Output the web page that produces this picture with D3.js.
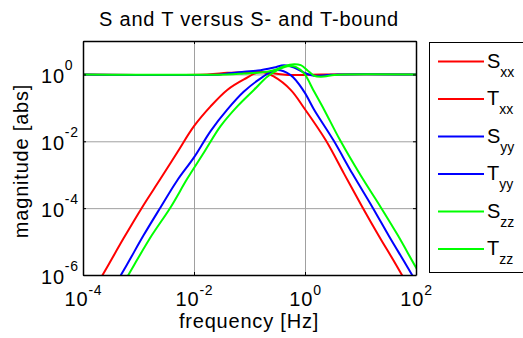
<!DOCTYPE html>
<html><head><meta charset="utf-8">
<script src="https://cdn.jsdelivr.net/npm/d3@7"></script>
<style>
body{margin:0;background:#fff;}
svg text{font-family:"Liberation Sans",Arial,Helvetica,sans-serif;fill:#000;}
</style></head><body>
<svg id="chart" width="523" height="338"></svg>
<script>
// ---- data ----
const titleText = "S and T versus S- and T-bound";
const xLabelText = "frequency [Hz]";
const yLabelText = "magnitude [abs]";
const xTicks = [1e-4, 1e-2, 1, 1e2];
const xTickExp = ["-4", "-2", "0", "2"];
const yTicks = [1e-6, 1e-4, 1e-2, 1];
const yTickExp = ["-6", "-4", "-2", "0"];
const legendMain = ["S", "T", "S", "T", "S", "T"];
const legendSub = ["xx", "xx", "yy", "yy", "zz", "zz"];

const freqSxx = [1e-4, 0.0173, 0.0397, 0.0912, 0.159, 0.240, 0.365, 0.635, 1.10, 1.92, 100];
const magSxx  = [1, 1, 1.12, 1.17, 1.17, 1.12, 1.02, 0.955, 0.977, 1, 1];
const freqTxx = [1.5e-4, 2.9e-4, 5.42e-4, 1.16e-3, 2.49e-3, 4.98e-3, 0.01, 0.0199, 0.0397, 0.0794, 0.159, 0.277, 0.552, 0.962, 2.37, 5.07, 10.9, 21.7, 43.4, 100];
const magTxx  = [3.1e-7, 2.07e-6, 1.27e-5, 1.05e-4, 7.53e-4, 4.62e-3, 0.0284, 0.111, 0.344, 0.711, 1.20, 0.853, 0.344, 0.0989, 0.0107, 1.06e-3, 1.05e-4, 1.42e-5, 2.07e-6, 1.8e-7];
const freqSyy = [1e-4, 0.0301, 0.0397, 0.0794, 0.159, 0.277, 0.419, 0.635, 0.962, 1.46, 2.54, 3.85, 100];
const magSyy  = [1, 1, 1.07, 1.20, 1.34, 1.61, 1.89, 1.61, 1.12, 0.913, 0.955, 1, 1];
const freqTyy = [3.2e-4, 6.22e-4, 1.25e-3, 2.49e-3, 4.98e-3, 0.01, 0.0199, 0.0397, 0.0794, 0.159, 0.297, 0.552, 0.962, 1.46, 3.26, 7.18, 16.5, 32.9, 65.8, 130];
const magTyy  = [3.1e-7, 2.07e-6, 1.59e-5, 1.05e-4, 6.73e-4, 3.29e-3, 0.0202, 0.0883, 0.307, 0.762, 1.34, 0.955, 0.307, 0.0883, 0.0107, 1.06e-3, 1.05e-4, 1.42e-5, 2.07e-6, 3.0e-7];
const freqSzz = [1e-4, 0.0397, 0.0794, 0.159, 0.277, 0.419, 0.635, 0.837, 1.10, 1.46, 1.92, 3.35, 5.07, 100];
const magSzz  = [1, 1, 1.07, 1.15, 1.34, 1.76, 2.02, 1.89, 1.34, 0.913, 0.853, 0.955, 1, 1];
const freqTzz = [4.4e-4, 8.45e-4, 1.76e-3, 3.77e-3, 7.54e-3, 0.0151, 0.0301, 0.0603, 0.120, 0.209, 0.318, 0.481, 0.681, 0.962, 1.46, 2.21, 4.30, 10.1, 23.3, 46.5, 93.0, 180];
const magTzz  = [3.1e-7, 2.07e-6, 1.59e-5, 1.05e-4, 7.53e-4, 4.62e-3, 0.0284, 0.111, 0.344, 0.853, 1.34, 1.76, 1.69, 1.07, 0.307, 0.0883, 0.0107, 9.44e-4, 1.05e-4, 1.59e-5, 2.07e-6, 3.0e-7];

// ---- styles ----
const seriesColors = ["#ff0000", "#ff0000", "#0000ff", "#0000ff", "#00ff00", "#00ff00"];
const series = [
  [freqSxx, magSxx], [freqTxx, magTxx],
  [freqSyy, magSyy], [freqTyy, magTyy],
  [freqSzz, magSzz], [freqTzz, magTzz]
];

const W = 523, H = 338;
const L = 83, R = 416, T = 41, B = 275;
const svg = d3.select("#chart");

const x = d3.scaleLog().domain([1e-4, 1e2]).range([L, R]);
const y = d3.scaleLog().domain([1e-6, 1e1]).range([B, T]);

svg.append("rect").attr("width", W).attr("height", H).attr("fill", "#fff");

// grid
const gridX = svg.append("g").attr("transform", `translate(0,${B})`)
  .call(d3.axisBottom(x).tickValues(xTicks).tickSize(-(B - T)).tickSizeOuter(0).tickFormat(() => ""));
gridX.select(".domain").remove();
gridX.selectAll("line").attr("stroke", "#a0a0a0").attr("stroke-width", 1);
const gridY = svg.append("g").attr("transform", `translate(${L},0)`)
  .call(d3.axisLeft(y).tickValues(yTicks).tickSize(-(R - L)).tickSizeOuter(0).tickFormat(() => ""));
gridY.select(".domain").remove();
gridY.selectAll("line").attr("stroke", "#a0a0a0").attr("stroke-width", 1);

// lines
svg.append("clipPath").attr("id", "clip").append("rect")
  .attr("x", L).attr("y", T).attr("width", R - L).attr("height", B - T);
const line = d3.line().x(d => x(d[0])).y(d => y(d[1])).curve(d3.curveCatmullRom.alpha(0.5));
const gLines = svg.append("g").attr("clip-path", "url(#clip)");
series.forEach((s, i) => {
  const pts = s[0].map((f, j) => [f, s[1][j]]);
  gLines.append("path").datum(pts).attr("d", line)
    .attr("fill", "none").attr("stroke", seriesColors[i]).attr("stroke-width", 2)
    .attr("stroke-linejoin", "round");
});

// axes (box with inward ticks)
function styleAxis(g) {
  g.select(".domain").attr("stroke", "#000").attr("stroke-width", 1.5);
  g.selectAll(".tick line").attr("stroke", "#000").attr("stroke-width", 1);
}
const axB = svg.append("g").attr("transform", `translate(0,${B})`)
  .call(d3.axisBottom(x).tickValues(xTicks).tickSize(-3).tickSizeOuter(0));
styleAxis(axB);
axB.selectAll(".tick text").each(function(d) {
  const t = d3.select(this);
  t.text(null).attr("y", 31).attr("dy", 0).attr("font-size", 20)
    .attr("letter-spacing", "0.8px").attr("text-anchor", "middle")
    .attr("font-family", "'Liberation Sans', Arial, sans-serif").attr("fill", "#000");
  t.append("tspan").text("10");
  t.append("tspan").attr("dy", -11).attr("font-size", 14).text(xTickExp[xTicks.indexOf(d)]);
});
const axT = svg.append("g").attr("transform", `translate(0,${T})`)
  .call(d3.axisTop(x).tickValues(xTicks).tickSize(-3).tickSizeOuter(0).tickFormat(() => ""));
styleAxis(axT);
const axL = svg.append("g").attr("transform", `translate(${L},0)`)
  .call(d3.axisLeft(y).tickValues(yTicks).tickSize(-3).tickSizeOuter(0));
styleAxis(axL);
axL.selectAll(".tick text").each(function(d) {
  const t = d3.select(this);
  t.text(null).attr("x", -42).attr("y", 8.5).attr("dy", 0).attr("font-size", 20)
    .attr("letter-spacing", "0.8px").attr("text-anchor", "start")
    .attr("font-family", "'Liberation Sans', Arial, sans-serif").attr("fill", "#000");
  t.append("tspan").text("10");
  t.append("tspan").attr("dy", -13).attr("font-size", 14).text(yTickExp[yTicks.indexOf(d)]);
});
const axR = svg.append("g").attr("transform", `translate(${R},0)`)
  .call(d3.axisRight(y).tickValues(yTicks).tickSize(-3).tickSizeOuter(0).tickFormat(() => ""));
styleAxis(axR);

// title and labels
svg.append("text").attr("x", 249).attr("y", 25.5).attr("text-anchor", "middle")
  .attr("font-size", 20).attr("letter-spacing", "0.8px").text(titleText);
svg.append("text").attr("x", 249).attr("y", 328).attr("text-anchor", "middle")
  .attr("font-size", 20).attr("letter-spacing", "0.8px").text(xLabelText);
svg.append("text").attr("transform", "translate(28,161) rotate(-90)").attr("text-anchor", "middle")
  .attr("font-size", 20).attr("letter-spacing", "0.8px").text(yLabelText);

// legend
const lg = svg.append("g");
lg.append("rect").attr("x", 429.5).attr("y", 42.5).attr("width", 110).attr("height", 230)
  .attr("fill", "#fff").attr("stroke", "#000").attr("stroke-width", 1);
legendMain.forEach((m, i) => {
  const ly = 61.5 + i * 37.5;
  lg.append("line").attr("x1", 438).attr("x2", 484).attr("y1", ly).attr("y2", ly)
    .attr("stroke", seriesColors[i]).attr("stroke-width", 2);
  const t = lg.append("text").attr("x", 487).attr("y", ly + 6).attr("font-size", 20);
  t.append("tspan").text(m);
  t.append("tspan").attr("dy", 9).attr("font-size", 14).text(legendSub[i]);
});
</script>
</body></html>
